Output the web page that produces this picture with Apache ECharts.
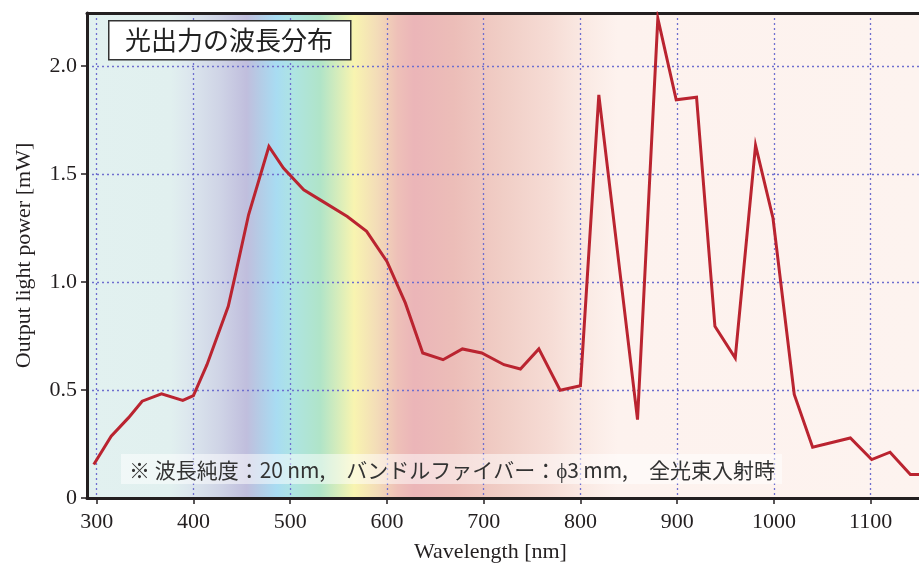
<!DOCTYPE html>
<html><head><meta charset="utf-8">
<script src="https://cdn.jsdelivr.net/npm/echarts@6/dist/echarts.min.js"></script>
<style>html,body{margin:0;padding:0;background:#fff}#c{width:919px;height:564px}</style>
</head><body><div id="c"></div>
<script>
const wavelength = [297, 315, 333, 347, 367, 389, 400, 414, 436, 443, 457, 478, 493, 514, 531, 559, 579, 600, 619, 637, 658, 678, 698, 721, 738, 757, 779, 800, 819, 859, 880, 899, 920, 939, 960, 981, 999, 1021, 1040, 1079, 1101, 1120, 1141, 1160];
const power = [0.155, 0.286, 0.372, 0.448, 0.482, 0.452, 0.474, 0.617, 0.887, 1.026, 1.311, 1.627, 1.527, 1.427, 1.38, 1.303, 1.234, 1.095, 0.903, 0.671, 0.640, 0.69, 0.671, 0.617, 0.597, 0.69, 0.499, 0.52, 1.866, 0.363, 2.22, 1.843, 1.855, 0.795, 0.648, 1.632, 1.296, 0.479, 0.235, 0.278, 0.178, 0.212, 0.109, 0.109];
const spectrumNm = [290, 376, 393, 427, 455, 469, 486, 503, 531, 566, 590, 611, 628, 669, 718, 769, 803, 838, 1152];
const spectrumColors = ['#e2f1f0', '#e1f0ef', '#dde8ee', '#cfd4e6', '#c0bedd', '#b4cce6', '#a8dcf2', '#aee4e2', '#b0e4c8', '#f8f4b0', '#f3dcb8', '#eec0b8', '#ebb5b8', '#ecbdb8', '#f0cdc5', '#f6dcd5', '#fae9e3', '#fdf2ee', '#fdf3ef'];
const titleText = '光出力の波長分布';
const noteText = '※ 波長純度：20\u2009nm,　バンドルファイバー：ϕ3\u2009mm,　全光束入射時';
const xName = 'Wavelength [nm]';
const yName = 'Output light power [mW]';

const X_MIN = 290, X_MAX = 1152, Y_MIN = 0, Y_MAX = 2.245;
const serif = 'Liberation Serif, Times New Roman, serif';
const ink = '#231f20';
const gridLine = { show: true, lineStyle: { color: '#6f6fcf', width: 1.3, type: [2, 3] } };

const stops = spectrumNm.map((nm, i) => ({ offset: (nm - X_MIN) / (X_MAX - X_MIN), color: spectrumColors[i] }));

const chart = echarts.init(document.getElementById('c'), null, { renderer: 'canvas' });
chart.setOption({
  animation: false,
  grid: {
    left: 87, top: 13, right: -2, bottom: 66, show: true, borderWidth: 0,
    containLabel: false, outerBoundsMode: 'none',
    backgroundColor: new echarts.graphic.LinearGradient(0, 0, 1, 0, stops)
  },
  xAxis: [{
    type: 'value', min: X_MIN, max: X_MAX, minInterval: 100, maxInterval: 100,
    name: xName, nameLocation: 'middle', nameGap: 43,
    nameTextStyle: { fontFamily: serif, fontSize: 22, color: ink, padding: [0, 27, 0, 0] },
    axisLine: { show: true, onZero: false, lineStyle: { color: ink, width: 3 } },
    axisTick: { show: true, length: 6, lineStyle: { color: ink, width: 1.5 } },
    axisLabel: { fontFamily: serif, fontSize: 22, color: ink, margin: 13, showMinLabel: false, showMaxLabel: false,
      formatter: v => String(v) },
    splitLine: gridLine
  }, {
    type: 'value', position: 'top', min: X_MIN, max: X_MAX,
    axisLine: { show: true, onZero: false, lineStyle: { color: ink, width: 3 } },
    axisTick: { show: false }, axisLabel: { show: false }, splitLine: { show: false }
  }],
  yAxis: {
    type: 'value', min: Y_MIN, max: Y_MAX, interval: 0.5,
    name: yName, nameLocation: 'middle', nameGap: 52,
    nameTextStyle: { fontFamily: serif, fontSize: 22, color: ink },
    axisLine: { show: true, onZero: false, lineStyle: { color: ink, width: 3 } },
    axisTick: { show: true, length: 6, lineStyle: { color: ink, width: 1.5 } },
    axisLabel: { fontFamily: serif, fontSize: 22, color: ink, margin: 10, showMaxLabel: false,
      formatter: v => v === 0 ? '0' : v.toFixed(1) },
    splitLine: gridLine
  },
  series: [{
    type: 'line', xAxisIndex: 0, symbol: 'none', z: 5,
    lineStyle: { color: '#ba2430', width: 3, join: 'miter' },
    data: wavelength.map((w, i) => [w, power[i]])
  }],
  graphic: [
    { type: 'rect', left: 108, top: 20, shape: { width: 242, height: 39 },
      style: { fill: '#ffffff', stroke: '#333333', lineWidth: 1.5 }, z: 10 },
    { type: 'text', x: 229, y: 40, z: 11,
      style: { text: titleText, fontFamily: 'Noto Sans CJK JP', fontSize: 26, fill: '#222222', align: 'center', verticalAlign: 'middle' } },
    { type: 'rect', left: 121, top: 454, shape: { width: 661, height: 30 },
      style: { fill: 'rgba(255,255,255,0.5)' }, z: 10 },
    { type: 'text', x: 129, y: 470, z: 11,
      style: { text: noteText, fontFamily: 'Noto Sans CJK JP', fontSize: 21, fill: '#333333', align: 'left', verticalAlign: 'middle' } }
  ]
});
</script></body></html>
